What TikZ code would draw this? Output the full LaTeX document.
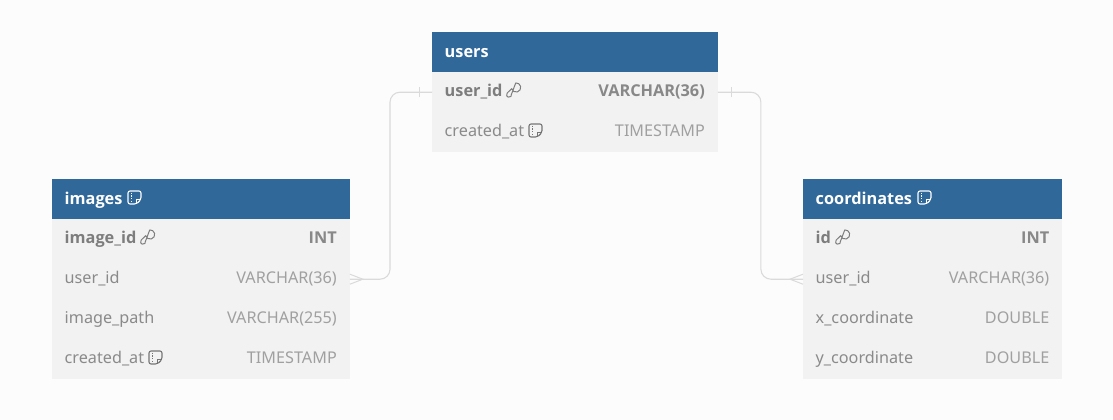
\documentclass[tikz,border=0pt]{standalone}
\usepackage{fontspec}
\setmainfont{Noto Sans}
\newfontfamily\boldfam{Open Sans}
\definecolor{bgc}{HTML}{FCFCFC}
\definecolor{headc}{HTML}{30689A}
\definecolor{rowc}{HTML}{F2F2F2}
\definecolor{keyc}{HTML}{7D7D7D}
\definecolor{namec}{HTML}{8A8A8A}
\definecolor{typec}{HTML}{A0A0A0}
\definecolor{relc}{HTML}{DADADA}
\tikzset{
  x=1pt,y=-1pt,
  headbox/.style={fill=headc,draw=none,anchor=north west,inner sep=0pt,minimum height=40pt},
  rowbox/.style={fill=rowc,draw=none,anchor=north west,inner sep=0pt,minimum height=40pt},
  headtxt/.style={anchor=base west,inner sep=0pt,text=white,font=\fontsize{16.3}{18}\selectfont\boldfam\bfseries},
  keytxt/.style={anchor=base west,inner sep=0pt,text=keyc,font=\fontsize{16.3}{18}\selectfont\boldfam\bfseries},
  nametxt/.style={anchor=base west,inner sep=0pt,text=namec,font=\fontsize{16.2}{18}\selectfont},
  keytype/.style={anchor=base east,inner sep=0pt,text=typec!85!black,font=\fontsize{16.3}{18}\selectfont\boldfam\bfseries},
  typetxt/.style={anchor=base east,inner sep=0pt,text=typec,font=\fontsize{16.2}{18}\selectfont},
  rel/.style={draw=relc,line width=1.1pt,rounded corners=10pt},
  relmark/.style={draw=relc,line width=1pt},
  keyicon/.pic={
    \draw[pic actions,line width=1pt,line join=round]
      (-1.8,-1.8) arc[start angle=165,end angle=-95,radius=4.6]
      -- (-2.2,4.2) -- (-2.6,6) -- (-5.4,6.6) -- (-6.8,5.4) -- (-6.4,2.6) -- cycle;
  },
  noteicon/.pic={
    \draw[pic actions,line width=1.1pt,line join=round,rounded corners=2pt]
      (-6.5,-6.5) -- (6.5,-6.5) -- (6.5,2) -- (2,6.5) -- (-6.5,6.5) -- cycle;
    \draw[pic actions,line width=1.1pt,line join=round] (6.5,2) -- (2,2) -- (2,6.5);
    \draw[pic actions,line width=.8pt,dash pattern=on 1.2pt off 1.6pt] (-3.6,-5) -- (-3.6,5.5);
  }
}
\begin{document}
\begin{tikzpicture}
\useasboundingbox[fill=bgc] (0,0) rectangle (1113,420);

% users
\node[headbox,minimum width=285.5pt] (usershead) at (432,32) {};
\node[rowbox,minimum width=285.5pt] (usersuid) at (432,72) {};
\node[rowbox,minimum width=285.5pt] (userscreated) at (432,112) {};
\node[headtxt] (usersname) at (444.5,57) {users};
\node[keytxt] (usersuidn) at (444.5,96) {user\_id};
\node[keytype] (usersuidt) at (705,96) {VARCHAR(36)};
\node[nametxt] (userscreatedn) at (444.5,136) {created\_at};
\node[typetxt] (userscreatedt) at (705,136) {TIMESTAMP};
\pic[draw=keyc] at (513.5,90.5) {keyicon};
\pic[draw=namec!85!black] at (535.5,130.5) {noteicon};

% images
\node[headbox,minimum width=297.5pt] (imageshead) at (52,179) {};
\node[rowbox,minimum width=297.5pt] (imagesid) at (52,219) {};
\node[rowbox,minimum width=297.5pt] (imagesuid) at (52,259) {};
\node[rowbox,minimum width=297.5pt] (imagespath) at (52,299) {};
\node[rowbox,minimum width=297.5pt] (imagescreated) at (52,339) {};
\node[headtxt] (imagesname) at (64.5,204) {images};
\node[keytxt] (imagesidn) at (64.5,243) {image\_id};
\node[keytype] (imagesidt) at (337,243) {INT};
\node[nametxt] (imagesuidn) at (64.5,283) {user\_id};
\node[typetxt] (imagesuidt) at (337,283) {VARCHAR(36)};
\node[nametxt] (imagespathn) at (64.5,323) {image\_path};
\node[typetxt] (imagespatht) at (337,323) {VARCHAR(255)};
\node[nametxt] (imagescreatedn) at (64.5,363) {created\_at};
\node[typetxt] (imagescreatedt) at (337,363) {TIMESTAMP};
\pic[draw=white] at (134.5,197.5) {noteicon};
\pic[draw=keyc] at (147.5,237.5) {keyicon};
\pic[draw=namec!85!black] at (155.5,357.5) {noteicon};

% coordinates
\node[headbox,minimum width=258.5pt] (coordshead) at (803,179) {};
\node[rowbox,minimum width=258.5pt] (coordsid) at (803,219) {};
\node[rowbox,minimum width=258.5pt] (coordsuid) at (803,259) {};
\node[rowbox,minimum width=258.5pt] (coordsx) at (803,299) {};
\node[rowbox,minimum width=258.5pt] (coordsy) at (803,339) {};
\node[headtxt] (coordsname) at (815.5,204) {coordinates};
\node[keytxt] (coordsidn) at (815.5,243) {id};
\node[keytype] (coordsidt) at (1049.5,243) {INT};
\node[nametxt] (coordsuidn) at (815.5,283) {user\_id};
\node[typetxt] (coordsuidt) at (1049.5,283) {VARCHAR(36)};
\node[nametxt] (coordsxn) at (815.5,323) {x\_coordinate};
\node[typetxt] (coordsxt) at (1049.5,323) {DOUBLE};
\node[nametxt] (coordsyn) at (815.5,363) {y\_coordinate};
\node[typetxt] (coordsyt) at (1049.5,363) {DOUBLE};
\pic[draw=white] at (924.5,197.5) {noteicon};
\pic[draw=keyc] at (842.5,237.5) {keyicon};

% relations
\draw[rel] (usersuid.west) -- ++(-42,0) |- (imagesuid.east);
\draw[rel] (usersuid.east) -- ++(43,0) |- (coordsuid.west);
% one-side bars
\draw[relmark] ([xshift=-13pt,yshift=-5pt]usersuid.west) -- ([xshift=-13pt,yshift=5pt]usersuid.west);
\draw[relmark] ([xshift=14pt,yshift=-5pt]usersuid.east) -- ([xshift=14pt,yshift=5pt]usersuid.east);
% crow's feet
\draw[relmark] ([yshift=5pt]imagesuid.east) -- ([xshift=13pt]imagesuid.east) -- ([yshift=-5pt]imagesuid.east);
\draw[relmark] ([yshift=5pt]coordsuid.west) -- ([xshift=-13pt]coordsuid.west) -- ([yshift=-5pt]coordsuid.west);
\end{tikzpicture}
\end{document}
